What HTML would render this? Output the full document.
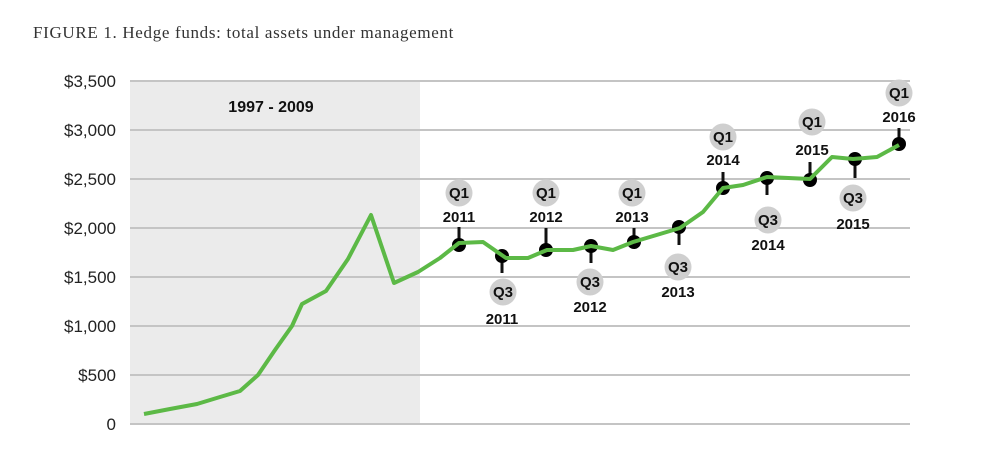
<!DOCTYPE html>
<html><head><style>body{margin:0;background:#fff}svg{display:block}</style></head><body>
<svg width="1000" height="454" xmlns="http://www.w3.org/2000/svg">
<rect width="1000" height="454" fill="#fff"/>
<text x="33" y="38" font-family="Liberation Serif, serif" font-size="17" letter-spacing="0.6" fill="#333" textLength="421" lengthAdjust="spacing">FIGURE 1. Hedge funds: total assets under management</text>
<rect x="130" y="81" width="290" height="343" fill="#ebebeb"/>
<g stroke="#c4c4c4" stroke-width="2">
<line x1="130" y1="81" x2="910" y2="81"/><line x1="130" y1="130" x2="910" y2="130"/>
<line x1="130" y1="179" x2="910" y2="179"/><line x1="130" y1="228" x2="910" y2="228"/>
<line x1="130" y1="277" x2="910" y2="277"/><line x1="130" y1="326" x2="910" y2="326"/>
<line x1="130" y1="375" x2="910" y2="375"/><line x1="130" y1="424" x2="910" y2="424"/>
</g>
<g font-family="Liberation Sans, sans-serif" font-size="17" fill="#222" text-anchor="end">
<text x="116" y="87">$3,500</text><text x="116" y="136">$3,000</text><text x="116" y="185">$2,500</text>
<text x="116" y="234">$2,000</text><text x="116" y="283">$1,500</text><text x="116" y="332">$1,000</text>
<text x="116" y="381">$500</text><text x="116" y="430">0</text>
</g>
<text x="271" y="112" font-family="Liberation Sans, sans-serif" font-size="16" font-weight="bold" text-anchor="middle" fill="#111">1997 - 2009</text>
<g stroke="#111" stroke-width="3">
<line x1="459" y1="245" x2="459" y2="227"/><line x1="502" y1="256" x2="502" y2="273"/>
<line x1="546" y1="250" x2="546" y2="228"/><line x1="591" y1="246" x2="591" y2="263"/>
<line x1="634" y1="242" x2="634" y2="228"/><line x1="679" y1="227" x2="679" y2="245"/>
<line x1="723" y1="188" x2="723" y2="172"/><line x1="767" y1="178" x2="767" y2="195"/>
<line x1="810" y1="180" x2="810" y2="162"/><line x1="855" y1="159" x2="855" y2="178"/>
<line x1="899" y1="144" x2="899" y2="128"/>
</g>
<g fill="#000">
<circle cx="459" cy="245" r="7"/><circle cx="502" cy="256" r="7"/><circle cx="546" cy="250" r="7"/>
<circle cx="591" cy="246" r="7"/><circle cx="634" cy="242" r="7"/><circle cx="679" cy="227" r="7"/>
<circle cx="723" cy="188" r="7"/><circle cx="767" cy="178" r="7"/><circle cx="810" cy="180" r="7"/>
<circle cx="855" cy="159" r="7"/><circle cx="899" cy="144" r="7"/>
</g>
<polyline fill="none" stroke="#5cb946" stroke-width="4" stroke-linejoin="round" points="144,414 170,409 197,404 220,397 240,391 258,375 275,350 292,326 302,304 326,291 348,259 371,215 394,283 418,272 440,258 459,243 483,242 506,258 528,258 547,250 573,250 591,246 613,250 633,242 680,228 703,212 723,188 743,185 767,177 810,179 832,157 853,159 877,157 899,145"/>
<g fill="#cfcfcf">
<circle cx="459" cy="193" r="13.5"/><circle cx="503" cy="292" r="13.5"/><circle cx="546" cy="193" r="13.5"/>
<circle cx="590" cy="282" r="13.5"/><circle cx="632" cy="193" r="13.5"/><circle cx="678" cy="267" r="13.5"/>
<circle cx="723" cy="137" r="13.5"/><circle cx="768" cy="220" r="13.5"/><circle cx="812" cy="122" r="13.5"/>
<circle cx="853" cy="198" r="13.5"/><circle cx="899" cy="93" r="13.5"/>
</g>
<g font-family="Liberation Sans, sans-serif" font-size="15" font-weight="bold" fill="#111" text-anchor="middle">
<text x="459" y="198">Q1</text><text x="459" y="222">2011</text>
<text x="503" y="297">Q3</text><text x="502" y="324">2011</text>
<text x="546" y="198">Q1</text><text x="546" y="222">2012</text>
<text x="590" y="287">Q3</text><text x="590" y="312">2012</text>
<text x="632" y="198">Q1</text><text x="632" y="222">2013</text>
<text x="678" y="272">Q3</text><text x="678" y="297">2013</text>
<text x="723" y="142">Q1</text><text x="723" y="165">2014</text>
<text x="768" y="225">Q3</text><text x="768" y="250">2014</text>
<text x="812" y="127">Q1</text><text x="812" y="155">2015</text>
<text x="853" y="203">Q3</text><text x="853" y="229">2015</text>
<text x="899" y="98">Q1</text><text x="899" y="122">2016</text>
</g>
</svg>
</body></html>
